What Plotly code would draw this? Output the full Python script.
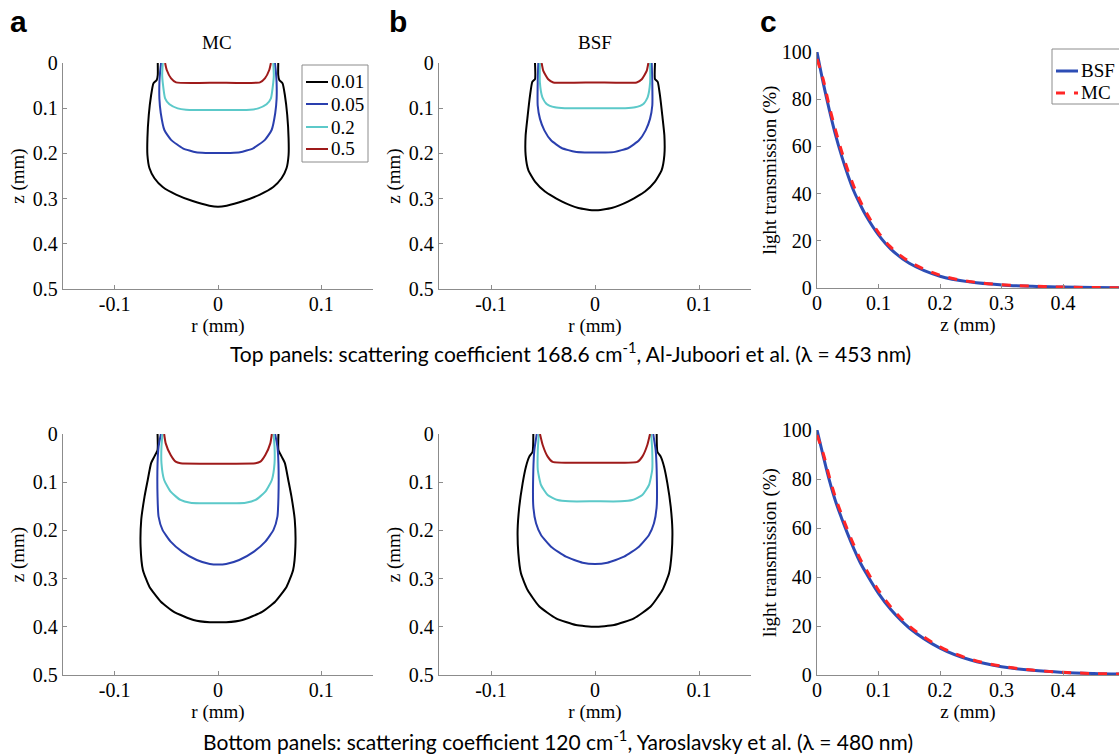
import plotly.graph_objects as go

# --- data -----------------------------------------------------------------
# iso-fluence contours: half profiles (r, z) from surface down to the axis r = 0
levels = ["0.01", "0.05", "0.2", "0.5"]
level_colors = ["#000000", "#2a3fae", "#5cc9c9", "#9e1a1a"]

# top row, MC
mc_top_r = [
    [0.0583, 0.0583, 0.0593, 0.0625, 0.0647, 0.0670, 0.0683, 0.0683, 0.0663, 0.0615, 0.0535, 0.0406, 0.0245, 0.0084, 0.0],
    [0.0551, 0.0560, 0.0567, 0.0567, 0.0554, 0.0519, 0.0454, 0.0340, 0.0213, 0.0120, 0.0],
    [0.0535, 0.0540, 0.0535, 0.0512, 0.0470, 0.0390, 0.0310, 0.0],
    [0.0512, 0.0496, 0.0454, 0.0406, 0.0],
]
mc_top_z = [
    [0.0, 0.0265, 0.0376, 0.0451, 0.0708, 0.115, 0.1667, 0.2035, 0.233, 0.255, 0.2743, 0.291, 0.3053, 0.3156, 0.318],
    [0.0, 0.019, 0.0428, 0.0796, 0.1106, 0.1482, 0.170, 0.1888, 0.1976, 0.199, 0.199],
    [0.0, 0.027, 0.0428, 0.0782, 0.0914, 0.1003, 0.1032, 0.104],
    [0.0, 0.0155, 0.034, 0.0428, 0.0435],
]

# top row, BSF
bsf_top_r = [
    [0.0577, 0.0577, 0.0603, 0.0625, 0.0647, 0.0667, 0.0667, 0.0641, 0.0577, 0.0481, 0.0321, 0.0160, 0.0],
    [0.0545, 0.0551, 0.0551, 0.0529, 0.0487, 0.0423, 0.0321, 0.0192, 0.0100, 0.0],
    [0.0530, 0.0530, 0.0506, 0.0465, 0.0385, 0.0290, 0.0],
    [0.0513, 0.0497, 0.0450, 0.0401, 0.0],
]
bsf_top_z = [
    [0.0, 0.0358, 0.0417, 0.0724, 0.116, 0.160, 0.204, 0.237, 0.2625, 0.2844, 0.3063, 0.3209, 0.326],
    [0.0, 0.043, 0.094, 0.1236, 0.149, 0.171, 0.188, 0.1966, 0.198, 0.198],
    [0.0, 0.043, 0.076, 0.0906, 0.098, 0.100, 0.100],
    [0.0, 0.0175, 0.036, 0.043, 0.0431],
]

# bottom row, MC
mc_bot_r = [
    [0.0585, 0.0585, 0.0616, 0.0648, 0.0680, 0.0711, 0.0743, 0.0749, 0.0727, 0.0664, 0.0553, 0.0427, 0.0237, 0.0079, 0.0],
    [0.0553, 0.0575, 0.0585, 0.0585, 0.0575, 0.0537, 0.0458, 0.0348, 0.0205, 0.0079, 0.0],
    [0.0537, 0.0547, 0.0547, 0.0521, 0.0458, 0.0363, 0.0268, 0.0],
    [0.0521, 0.0506, 0.0458, 0.0410, 0.0363, 0.0],
]
mc_bot_z = [
    [0.0, 0.0332, 0.047, 0.0609, 0.0954, 0.130, 0.1784, 0.2337, 0.282, 0.3168, 0.348, 0.369, 0.3859, 0.3907, 0.3907],
    [0.0, 0.0263, 0.061, 0.130, 0.1715, 0.199, 0.2234, 0.244, 0.2614, 0.2697, 0.271],
    [0.0, 0.0263, 0.061, 0.0954, 0.1197, 0.1369, 0.1425, 0.1438],
    [0.0, 0.0194, 0.0436, 0.0574, 0.0609, 0.0615],
]

# bottom row, BSF
bsf_bot_r = [
    [0.0593, 0.0600, 0.0632, 0.0664, 0.0696, 0.0728, 0.0744, 0.0737, 0.0712, 0.0648, 0.0535, 0.0375, 0.0183, 0.0],
    [0.0560, 0.0583, 0.0593, 0.0593, 0.0567, 0.0519, 0.0423, 0.0279, 0.0119, 0.0],
    [0.0540, 0.0550, 0.0550, 0.0519, 0.0455, 0.0359, 0.0247, 0.0],
    [0.0529, 0.0503, 0.0455, 0.0407, 0.0],
]
bsf_bot_z = [
    [0.0, 0.0367, 0.047, 0.0678, 0.1023, 0.1508, 0.199, 0.2476, 0.289, 0.3237, 0.358, 0.3824, 0.3963, 0.400],
    [0.0, 0.033, 0.0747, 0.1508, 0.1853, 0.2095, 0.2338, 0.2545, 0.267, 0.2697],
    [0.0, 0.033, 0.0747, 0.1058, 0.1266, 0.137, 0.1397, 0.1397],
    [0.0, 0.0228, 0.047, 0.058, 0.0595],
]

# light transmission vs depth
depth = [0, 0.01, 0.02, 0.03, 0.04, 0.05, 0.06, 0.07, 0.08, 0.10, 0.12, 0.15,
         0.20, 0.25, 0.30, 0.35, 0.40, 0.45, 0.50]
trans_bsf_top = [100, 87, 75.5, 65, 56, 48, 41, 35.5, 30.5, 22.5, 16.5, 10.5,
                 5.0, 2.5, 1.3, 0.7, 0.4, 0.2, 0.1]
trans_mc_top = [97, 88.5, 77, 67, 58, 50, 43, 37, 32, 23.5, 17.3, 11.2,
                5.4, 2.7, 1.4, 0.8, 0.4, 0.2, 0.1]
trans_bsf_bot = [100, 89.5, 79.5, 71, 64, 57.5, 51.5, 46, 41.5, 33.3, 26.7, 19.2,
                 11.0, 6.1, 3.4, 1.9, 1.05, 0.6, 0.33]
trans_mc_bot = [98, 90.5, 81, 72.5, 65.5, 59, 53, 47.5, 43, 34.6, 27.8, 20,
                11.5, 6.4, 3.6, 2.0, 1.1, 0.6, 0.35]
methods = ["BSF", "MC"]
method_colors = ["#2d4db5", "#ff2626"]
method_dash = ["solid", "dash"]

r_ticks = [-0.1, 0, 0.1]
r_tick_labels = ["-0.1", "0", "0.1"]
z_ticks = [0, 0.1, 0.2, 0.3, 0.4, 0.5]
depth_ticks = [0, 0.1, 0.2, 0.3, 0.4]

caption_top = ("Top panels: scattering coefficient 168.6 cm<sup>-1</sup>, "
               "Al-Juboori et al. (λ = 453 nm)")
caption_bot = ("Bottom panels: scattering coefficient 120 cm<sup>-1</sup>, "
               "Yaroslavsky et al. (λ = 480 nm)")

W, H = 1119, 754
SERIF = "Liberation Serif"
AXCOL = "#8c8c8c"


def mirror(r_half, z_half):
    # contour is symmetric about r = 0: left half down, right half back up
    x = [-v for v in r_half] + list(reversed(r_half[:-1]))
    y = list(z_half) + list(reversed(z_half[:-1]))
    return x, y


def px(x0, x1):
    return [x0 / W, x1 / W]


def py(top, bottom):
    return [1 - bottom / H, 1 - top / H]


fig = go.Figure()

panels = [(mc_top_r, mc_top_z, "x", "y"),
          (bsf_top_r, bsf_top_z, "x2", "y2"),
          (mc_bot_r, mc_bot_z, "x4", "y4"),
          (bsf_bot_r, bsf_bot_z, "x5", "y5")]
for r_set, z_set, xa, ya in panels:
    for k in range(len(levels)):
        x, y = mirror(r_set[k], z_set[k])
        fig.add_trace(go.Scatter(
            x=x, y=y, mode="lines", name=levels[k], xaxis=xa, yaxis=ya,
            line=dict(color=level_colors[k], width=2, shape="spline", smoothing=0.5),
            showlegend=False, hoverinfo="skip"))

for series, xa, ya in [((trans_bsf_top, trans_mc_top), "x3", "y3"),
                       ((trans_bsf_bot, trans_mc_bot), "x6", "y6")]:
    for k in range(len(methods)):
        fig.add_trace(go.Scatter(
            x=depth, y=series[k], mode="lines", name=methods[k], xaxis=xa, yaxis=ya,
            line=dict(color=method_colors[k], width=3, dash=method_dash[k], shape="spline"),
            showlegend=False))

axis_style = dict(showline=True, linecolor=AXCOL, linewidth=1.3, ticks="inside",
                  ticklen=4, tickcolor=AXCOL, showgrid=False, zeroline=False,
                  tickfont=dict(family=SERIF, size=20, color="black"),
                  title_font=dict(family=SERIF, size=19, color="black"))

rows = [(63, 289, 52, 288), (434, 675, 430, 675)]
cols_ab = [(63, 373), (439, 751)]
n = 1
for top, bot, ctop, cbot in rows:
    for x0, x1 in cols_ab:
        sx = "" if n == 1 else str(n)
        fig.update_layout(**{
            "xaxis" + sx: dict(axis_style, domain=px(x0, x1), range=[-0.15, 0.15],
                               tickvals=r_ticks, ticktext=r_tick_labels, anchor="y" + sx,
                               ticklabelstandoff=-3,
                               title=dict(text="r (mm)", standoff=0)),
            "yaxis" + sx: dict(axis_style, domain=py(top, bot), range=[0.5, 0],
                               tickvals=z_ticks, anchor="x" + sx,
                               title=dict(text="z (mm)", standoff=3)),
        })
        n += 1
    sx = str(n)
    fig.update_layout(**{
        "xaxis" + sx: dict(axis_style, domain=px(817, 1119), range=[0, 0.491],
                           tickvals=depth_ticks, anchor="y" + sx, ticklabelstandoff=-3,
                           title=dict(text="z (mm)", standoff=0)),
        "yaxis" + sx: dict(axis_style, domain=py(ctop, cbot), range=[0, 100],
                           dtick=20, anchor="x" + sx,
                           title=dict(text="light transmission (%)", standoff=0)),
    })
    n += 1

ann = []
shapes = []


def paper_text(text, x, y, font, xanchor="center"):
    return dict(text=text, x=x / W, y=1 - y / H, xref="paper", yref="paper",
                showarrow=False, xanchor=xanchor, yanchor="middle", font=font)


for label, x in [("a", 18), ("b", 398), ("c", 768)]:
    ann.append(paper_text(label, x, 21, dict(family="Liberation Sans", size=30,
                                             color="black", weight="bold")))
for label, x in [("MC", 217), ("BSF", 595)]:
    ann.append(paper_text(label, x, 42, dict(family=SERIF, size=19, color="black")))
for text, x, y in [(caption_top, 570, 352), (caption_bot, 558, 740)]:
    ann.append(paper_text(text, x, y, dict(family="Lato", size=21, color="black")))


def legend_box(x0, y0, x1, y1, names, colors, dashes, widths, row_y):
    shapes.append(dict(type="rect", xref="paper", yref="paper",
                       x0=x0 / W, x1=x1 / W, y0=1 - y1 / H, y1=1 - y0 / H,
                       line=dict(color=AXCOL, width=1), fillcolor="white"))
    for k in range(len(names)):
        yy = 1 - row_y[k] / H
        shapes.append(dict(type="line", xref="paper", yref="paper",
                           x0=(x0 + 4) / W, x1=(x0 + 26) / W, y0=yy, y1=yy,
                           line=dict(color=colors[k], width=widths, dash=dashes[k])))
        ann.append(paper_text(names[k], x0 + 27, row_y[k],
                              dict(family=SERIF, size=19, color="black"), xanchor="left"))


legend_box(302, 65, 368, 162, levels, level_colors, ["solid"] * 4, 2, [82, 104, 127, 149])
legend_box(1052, 49, 1130, 104, methods, method_colors, method_dash, 3, [71, 93])

fig.update_layout(
    width=W, height=H,
    margin=dict(l=0, r=0, t=0, b=0, autoexpand=False),
    paper_bgcolor="white", plot_bgcolor="white",
    annotations=ann, shapes=shapes,
)

fig.write_html("out.html", config={"displayModeBar": False},
               post_script="document.body.style.margin = '0';")
